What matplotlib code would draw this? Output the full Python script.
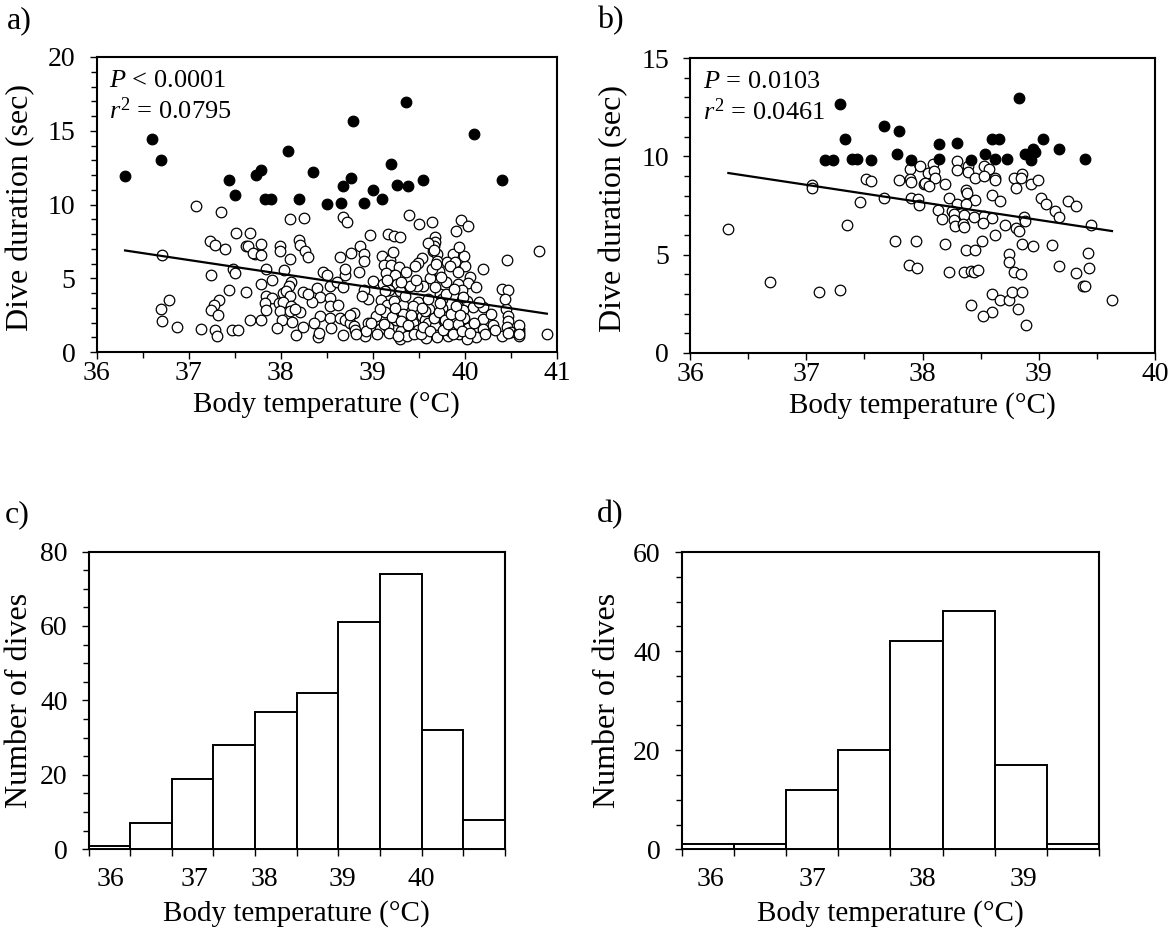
import numpy as np
import matplotlib
matplotlib.use("Agg")
import matplotlib.pyplot as plt
from matplotlib.ticker import MultipleLocator, FixedLocator, NullFormatter

plt.rcParams['font.family'] = ['Liberation Serif', 'DejaVu Serif']
plt.rcParams['mathtext.fontset'] = 'custom'
plt.rcParams['mathtext.rm'] = 'Liberation Serif'
plt.rcParams['mathtext.it'] = 'Liberation Serif:italic'

# ---------------- data: panel a ----------------
a_open = [
    (37.08, 9.88), (37.35, 9.47), (37.52, 8.07), (37.67, 8.07), (37.23, 7.55), (37.29, 7.23), (37.40, 7.01),
    (37.62, 7.21), (37.65, 7.16), (37.72, 6.64), (36.71, 6.55), (37.48, 5.65), (37.50, 5.36), (37.24, 5.20),
    (37.44, 4.23), (37.62, 4.07), (36.79, 3.50), (36.70, 2.89), (37.33, 3.50), (37.28, 3.16), (37.24, 2.87),
    (37.32, 2.53), (36.71, 2.10), (36.87, 1.69), (37.14, 1.58), (37.29, 1.51), (37.31, 1.06), (37.47, 1.51),
    (37.54, 1.47), (37.67, 2.19),
    (38.10, 9.04), (38.25, 9.08), (38.68, 9.13), (38.72, 8.81), (38.97, 7.95), (39.17, 8.00), (39.23, 7.89),
    (39.29, 7.77), (37.79, 7.34), (38.20, 7.62), (38.21, 7.23), (37.99, 7.21), (37.99, 6.87), (38.26, 6.87),
    (38.30, 6.42), (38.86, 7.16), (38.10, 6.33), (37.70, 6.71), (37.79, 6.60), (38.76, 6.71), (38.90, 6.64),
    (38.90, 6.15), (38.64, 6.42), (39.10, 6.53), (39.19, 6.26), (39.12, 5.92), (39.20, 5.92), (39.28, 5.76),
    (37.84, 5.65), (38.04, 5.58), (38.46, 5.42), (38.50, 5.24), (38.70, 5.24), (38.85, 5.40), (39.14, 5.36),
    (39.24, 5.20), (37.91, 4.86), (37.79, 4.61), (38.11, 4.72), (38.09, 4.45), (38.39, 4.34), (38.53, 4.50),
    (38.61, 4.75), (38.68, 4.41), (38.90, 4.23), (39.00, 4.79), (39.11, 4.61), (39.26, 4.61), (39.18, 4.23),
    (39.13, 4.11), (39.29, 4.11), (37.84, 3.77), (37.91, 3.66), (38.02, 4.00), (38.06, 4.11), (38.24, 4.07),
    (38.10, 3.77), (38.43, 3.73), (38.54, 3.66), (38.34, 3.39), (37.83, 3.32), (37.98, 3.32), (38.03, 3.37),
    (38.11, 3.14), (38.53, 3.10), (38.95, 3.59), (39.09, 3.55), (39.15, 3.21), (39.23, 3.43), (39.33, 3.21),
    (37.84, 2.87), (37.99, 2.76), (38.10, 2.76), (38.21, 2.69), (38.43, 2.46), (38.53, 2.31), (38.80, 2.64),
    (39.04, 2.42), (39.13, 2.69), (39.33, 2.60), (37.79, 2.15), (38.01, 2.15), (38.12, 2.03), (38.36, 1.97),
    (38.64, 2.28), (38.70, 2.19), (38.75, 1.97), (38.80, 1.79), (38.95, 1.97), (39.08, 1.56), (39.17, 1.69),
    (39.25, 2.15), (39.33, 1.85), (37.96, 1.63), (38.24, 1.69), (38.17, 1.18), (38.40, 1.02), (38.68, 1.18),
    (38.81, 1.51), (38.91, 1.06), (38.93, 1.40), (39.31, 1.40), (39.30, 0.88),
    (39.39, 9.31), (39.50, 8.70), (39.64, 8.79), (39.96, 8.97), (40.03, 8.56), (39.90, 8.23), (39.67, 7.80),
    (39.67, 7.43), (39.66, 7.21), (39.65, 6.82), (39.70, 6.64), (39.87, 6.67), (39.53, 6.37), (39.49, 6.03),
    (39.46, 5.81), (39.70, 6.15), (39.81, 6.10), (39.89, 6.08), (40.00, 5.85), (40.20, 5.63), (40.46, 6.26),
    (40.80, 6.82), (39.72, 5.47), (40.05, 5.08), (40.03, 4.68), (39.62, 5.02), (39.80, 4.72), (39.93, 4.63),
    (39.97, 4.18), (39.55, 4.50), (39.48, 4.45), (39.40, 4.45), (39.31, 4.72), (40.40, 4.27), (40.47, 4.18),
    (39.73, 3.95), (39.75, 3.59), (39.49, 3.39), (39.97, 3.55), (40.02, 3.43), (39.44, 3.14), (39.61, 2.94),
    (39.75, 2.98), (40.09, 3.05), (40.20, 3.05), (39.98, 2.87), (40.45, 2.92), (39.53, 2.42), (39.57, 2.19),
    (39.75, 2.42), (39.99, 2.31), (40.20, 2.24), (40.47, 2.46), (40.47, 2.08), (39.44, 1.97), (39.60, 1.97),
    (39.67, 1.74), (39.78, 1.97), (39.90, 1.69), (39.96, 1.63), (40.03, 1.63), (40.20, 1.56), (40.31, 1.85),
    (40.46, 1.69), (40.59, 1.56), (39.40, 1.47), (39.49, 1.47), (39.69, 1.18), (39.82, 1.11), (39.84, 1.40),
    (39.94, 1.24), (40.12, 1.02), (40.40, 1.11), (40.50, 1.33), (40.59, 1.33), (40.59, 1.06), (40.89, 1.22),
    (39.58, 0.95), (39.37, 1.11), (40.02, 0.88),
    # overlapping points in dense areas (estimated)
    (38.15, 2.90), (38.42, 1.30), (38.30, 3.90),
    (38.55, 1.60), (38.62, 3.20), (38.75, 2.50), (38.82, 1.20), (38.88, 3.80), (38.98, 2.00), (38.70, 5.60),
    (39.05, 1.20), (39.08, 2.90), (39.12, 1.90), (39.15, 4.90), (39.18, 1.30), (39.21, 2.40), (39.24, 3.00),
    (39.27, 1.10), (39.31, 2.10), (39.35, 3.80), (39.38, 1.80), (39.42, 2.50), (39.45, 1.20), (39.47, 4.90),
    (39.36, 5.40), (39.22, 6.80),
    (39.52, 1.20), (39.55, 1.70), (39.57, 2.80), (39.60, 3.60), (39.62, 1.40), (39.64, 5.60), (39.66, 2.30),
    (39.68, 4.40), (39.69, 6.00), (39.70, 1.00), (39.72, 2.70), (39.73, 3.30), (39.74, 5.10), (39.76, 1.50),
    (39.78, 2.20), (39.80, 3.90), (39.82, 1.90), (39.84, 5.80), (39.85, 2.60), (39.87, 1.20), (39.88, 4.30),
    (39.90, 3.10), (39.92, 1.90), (39.93, 5.40), (39.95, 2.50), (39.97, 1.40), (39.98, 3.70), (39.99, 6.50),
    (39.60, 7.40), (39.53, 3.00), (39.66, 6.90), (39.94, 7.10),
    (40.05, 1.30), (40.10, 2.00), (40.15, 3.40), (40.22, 1.20), (40.28, 2.60), (40.33, 1.50), (40.44, 3.60),
    (40.47, 1.30), (40.12, 4.40), (40.59, 1.80), (40.59, 1.20),
]
a_open_x = [p[0] for p in a_open]
a_open_y = [p[1] for p in a_open]

a_filled_x = [36.31, 36.60, 36.70, 37.44, 37.50, 37.73, 37.79, 37.83, 37.90, 38.08, 38.20, 38.35, 38.50, 38.65,
              38.68, 38.76, 38.78, 38.90, 39.00, 39.10, 39.20, 39.26, 39.36, 39.38, 39.55, 40.10, 40.40]
a_filled_y = [11.91, 14.46, 12.99, 11.68, 10.67, 11.98, 12.32, 10.40, 10.40, 13.63, 10.37, 12.18, 10.03, 10.10,
              11.23, 11.82, 15.64, 10.10, 11.01, 10.37, 12.77, 11.30, 16.95, 11.23, 11.68, 14.80, 11.66]
a_fit = (-0.936, 40.87)          # slope, intercept
a_stats = ("< 0.0001", "0.0795")

# ---------------- data: panel b ----------------
b_open = [
    (36.33, 6.29), (36.69, 3.61), (37.11, 3.10), (37.29, 3.22), (37.05, 8.53), (37.05, 8.39), (37.35, 6.49),
    (37.46, 7.68), (37.51, 8.86), (37.56, 8.75), (37.67, 7.90), (37.80, 8.81), (37.76, 5.69), (37.94, 5.69),
    (37.88, 4.46), (37.95, 4.32), (37.89, 9.37), (37.89, 8.86), (37.90, 8.69), (37.98, 9.49), (38.01, 8.61),
    (37.90, 7.90), (37.96, 7.85), (37.97, 7.51),
    (38.09, 9.63), (38.05, 9.15), (38.10, 9.24), (38.11, 8.92), (38.02, 8.64), (38.06, 8.47), (38.19, 8.61),
    (38.30, 9.75), (38.30, 9.32), (38.39, 9.49), (38.39, 9.20), (38.45, 8.90), (38.53, 9.49), (38.57, 9.37),
    (38.53, 8.98), (38.62, 8.90), (38.62, 8.78), (38.37, 8.31), (38.38, 8.14), (38.45, 7.80), (38.60, 8.02),
    (38.67, 7.71), (38.79, 8.90), (38.86, 9.12), (38.85, 8.92), (38.80, 8.41), (38.93, 8.61), (38.99, 8.81),
    (38.23, 7.90), (38.30, 7.59), (38.37, 7.59), (38.13, 7.29), (38.25, 7.22), (38.27, 7.05), (38.36, 7.00),
    (38.44, 6.92), (38.17, 6.83), (38.27, 6.75), (38.28, 6.44), (38.35, 6.58), (38.36, 6.41), (38.53, 6.95),
    (38.60, 6.88), (38.52, 6.63), (38.71, 6.49), (38.80, 6.37), (38.83, 6.20), (38.87, 6.92), (38.88, 6.71),
    (39.02, 7.90), (39.06, 7.59), (39.14, 7.22), (39.17, 6.92), (39.25, 7.71), (39.32, 7.49), (39.45, 6.49),
    (38.19, 5.53), (38.37, 5.22), (38.45, 5.22), (38.51, 5.69), (38.62, 6.02), (38.86, 5.53), (38.95, 5.42),
    (39.11, 5.51), (38.74, 5.02), (38.74, 4.63), (38.79, 4.12), (38.85, 4.03), (39.42, 5.10), (39.17, 4.42),
    (39.32, 4.08), (39.43, 4.32), (39.38, 3.41), (39.40, 3.41), (38.23, 4.12), (38.36, 4.12), (38.42, 4.15),
    (38.44, 4.12), (38.48, 4.20), (38.60, 3.02), (38.67, 2.71), (38.74, 2.71), (38.77, 3.10), (38.86, 3.10),
    (38.82, 2.22), (38.42, 2.42), (38.60, 2.08), (38.52, 1.88), (38.89, 1.41), (39.63, 2.71),
]
b_open_x = [p[0] for p in b_open]
b_open_y = [p[1] for p in b_open]

b_filled_x = [37.29, 37.67, 37.80, 37.33, 37.16, 37.23, 37.39, 37.44, 37.56, 37.78, 37.90, 38.14, 38.30, 38.14,
              38.42, 38.54, 38.60, 38.66, 38.62, 38.73, 38.83, 38.88, 38.95, 38.97, 38.93, 39.04, 39.17, 39.40]
b_filled_y = [12.68, 11.53, 11.29, 10.90, 9.80, 9.80, 9.88, 9.88, 9.80, 10.10, 9.80, 10.61, 10.69, 9.88,
              9.80, 10.10, 10.90, 10.90, 9.88, 9.88, 12.98, 10.14, 10.39, 10.22, 9.80, 10.90, 10.39, 9.88]
b_fit = (-0.894, 41.63)
b_stats = ("= 0.0103", "0.0461")

# ---------------- data: histograms ----------------
c_counts = [1, 7, 19, 28, 37, 42, 61, 74, 32, 8]
c_labels = ["36", "37", "38", "39", "40"]
c_label_pos = [0.52, 2.54, 4.22, 6.09, 7.98]   # in bin units

d_counts = [1, 1, 12, 20, 42, 48, 17, 1]
d_labels = ["36", "37", "38", "39"]
d_label_pos = [0.56, 2.50, 4.61, 6.55]

XLABEL = "Body temperature (\u00b0C)"

W, H = 1175, 939
fig = plt.figure(figsize=(W / 100, H / 100), dpi=100)


def rect(l, r, t, b):
    return [l / W, 1 - b / H, (r - l) / W, (b - t) / H]


TFS = 20     # tick labels
XFS = 21     # x axis titles
YFS = 23     # y axis titles
SFS = 19     # statistics text
LW = 1.5


def style(ax):
    for s in ax.spines.values():
        s.set_linewidth(LW)
    ax.tick_params(which='both', direction='out', width=1.0, labelsize=TFS)
    ax.tick_params(which='major', length=5)
    ax.tick_params(which='minor', length=4)
    ax.tick_params(axis='y', which='both', pad=10)
    ax.tick_params(axis='x', which='both', pad=1.5)


def scatter_panel(ax, ox, oy, fx, fy, fit, stats, xlim, ylim, ystep, ylab_x):
    ax.scatter(ox, oy, s=58, facecolors='white', edgecolors='black', linewidths=0.9, zorder=3)
    ax.scatter(fx, fy, s=58, facecolors='black', edgecolors='black', linewidths=0.9, zorder=3)
    allx = np.array(list(ox) + list(fx))
    xs = np.array([allx.min(), allx.max()])
    ax.plot(xs, fit[0] * xs + fit[1], color='black', lw=1.6, zorder=4)
    ax.set_xlim(*xlim)
    ax.set_ylim(*ylim)
    ax.xaxis.set_major_locator(MultipleLocator(1))
    ax.xaxis.set_minor_locator(MultipleLocator(0.5))
    ax.yaxis.set_major_locator(MultipleLocator(ystep))
    ax.yaxis.set_minor_locator(MultipleLocator(1))
    style(ax)
    ax.set_xlabel(XLABEL, fontsize=XFS)
    ax.set_ylabel("Dive duration (sec)", fontsize=YFS)
    ax.xaxis.set_label_coords(0.5, -0.133)
    ax.yaxis.set_label_coords(ylab_x, 0.49)
    ax.text(0.028, 0.898, r"$P$ " + stats[0], transform=ax.transAxes, fontsize=SFS, va='baseline', ha='left')
    ax.text(0.028, 0.79, r"$r^{\mathrm{2}}$ = " + stats[1], transform=ax.transAxes, fontsize=SFS,
            va='baseline', ha='left')


def hist_panel(ax, counts, labels, label_pos, ymax, ylab_x):
    n = len(counts)
    ax.bar(np.arange(n), counts, width=1.0, align='edge', facecolor='white', edgecolor='black',
           linewidth=1.4, zorder=3)
    ax.set_xlim(0, n)
    ax.set_ylim(0, ymax)
    ax.xaxis.set_major_locator(FixedLocator(np.arange(n + 1)))
    ax.xaxis.set_major_formatter(NullFormatter())
    ax.xaxis.set_minor_locator(FixedLocator(label_pos))
    ax.set_xticklabels(labels, minor=True)
    ax.yaxis.set_major_locator(MultipleLocator(20))
    ax.yaxis.set_minor_locator(MultipleLocator(5))
    style(ax)
    ax.tick_params(axis='x', which='minor', length=0, pad=13)
    ax.set_xlabel(XLABEL, fontsize=XFS)
    ax.set_ylabel("Number of dives", fontsize=YFS)
    ax.xaxis.set_label_coords(0.5, -0.17)
    ax.yaxis.set_label_coords(ylab_x, 0.5)


ax_a = fig.add_axes(rect(96.5, 557, 57, 352))
scatter_panel(ax_a, a_open_x, a_open_y, a_filled_x, a_filled_y, a_fit, a_stats, (36, 41), (0, 20), 5, -0.134)

ax_b = fig.add_axes(rect(690, 1155, 58, 353))
scatter_panel(ax_b, b_open_x, b_open_y, b_filled_x, b_filled_y, b_fit, b_stats, (36, 40), (0, 15), 5, -0.133)

ax_c = fig.add_axes(rect(88.5, 505, 551.5, 849.3))
hist_panel(ax_c, c_counts, c_labels, c_label_pos, 80, -0.131)

ax_d = fig.add_axes(rect(681.7, 1099, 552, 849.3))
hist_panel(ax_d, d_counts, d_labels, d_label_pos, 60, -0.143)

for lab, (x, y) in zip(["a)", "b)", "c)", "d)"], [(7, 6), (597, 6), (5, 500), (597, 500)]):
    fig.text(x / W, 1 - y / H, lab, fontsize=23, va='top', ha='left')

fig.savefig("out.png", dpi=100)
